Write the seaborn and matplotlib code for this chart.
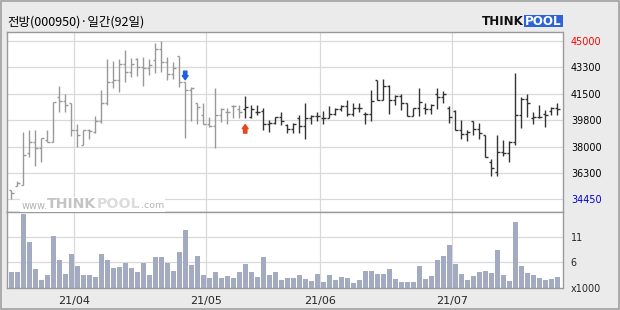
import numpy as np
import pandas as pd
import matplotlib
matplotlib.use("Agg")
import matplotlib.pyplot as plt
import seaborn as sns
from matplotlib.transforms import offset_copy
from matplotlib.patches import Rectangle

sns.set_theme(style="white")
plt.rcParams["font.family"] = ["DejaVu Sans"]

# ---------------- data ----------------
days = list(range(92))  # trading days, 2021-03-17 .. 2021-07-26
opens = [35050, 35350, 35400, 37550, 38300, 37850, 38400, 38300, 41300, 41000,
         40850, 39050, 38100, 39050, 38950, 39650, 40850, 42250, 42400, 43450,
         42950, 43800, 43300, 43200, 43750, 44500, 43600, 42800, 44000, 42250,
         41750, 40850, 40100, 39500, 39350, 40100, 40250, 40700, 40450, 40450,
         39950, 40250, 40350, 39500, 39550, 39950, 39400, 39150, 39850, 39350,
         39850, 40000, 39900, 39900, 40150, 40500, 40700, 40150, 40550, 40150,
         40150, 42400, 41050, 42000, 41050, 41350, 40850, 40000, 40550, 40550,
         40450, 41450, 41300, 40550, 40350, 39100, 38800, 39650, 39150, 38750,
         36950, 36250, 37600, 37550, 38300, 40100, 41150, 39850, 39950, 40150,
         40350, 40550]
highs = [35100, 35700, 38950, 39050, 39100, 38550, 39100, 40950, 42000, 41500,
         40850, 39450, 39050, 39150, 40000, 41750, 43800, 43650, 43800, 44400,
         43850, 43900, 43950, 43800, 44900, 45000, 43950, 43600, 44000, 42250,
         41950, 40850, 40850, 39950, 41900, 40550, 40550, 40750, 40750, 41350,
         40750, 40750, 40550, 39750, 39950, 40250, 39450, 39550, 40100, 40850,
         40100, 40250, 40350, 40700, 40550, 40750, 41050, 40850, 40850, 40300,
         41750, 42400, 42450, 42050, 41400, 41450, 40850, 40550, 41850, 40850,
         40800, 41850, 41650, 40700, 40400, 39750, 39050, 39650, 39550, 38750,
         37150, 38750, 38400, 38350, 42850, 41300, 41500, 40250, 40750, 40400,
         40600, 40900]
lows = [34500, 35350, 35400, 37250, 36700, 36950, 38250, 38250, 40300, 40300,
        38700, 37950, 38100, 38500, 38900, 39550, 40750, 41850, 41600, 42300,
        42600, 42700, 42000, 42750, 42850, 42950, 42400, 42450, 41950, 38550,
        39650, 39500, 39450, 39300, 37850, 39600, 39450, 39850, 39900, 39900,
        39850, 40100, 39100, 38950, 39500, 39400, 38900, 38850, 38850, 38500,
        39500, 39650, 39450, 39850, 40050, 40350, 40000, 40000, 40250, 39500,
        39700, 41050, 41050, 40150, 40750, 40400, 40000, 40000, 40000, 40150,
        40150, 40450, 40850, 39550, 39050, 38450, 38350, 38750, 38500, 37250,
        36000, 36000, 37350, 36950, 38100, 39200, 39950, 39500, 39850, 39300,
        40050, 40100]
closes = [34850, 35550, 37400, 38300, 37850, 38550, 38300, 40950, 41000, 40750,
          39050, 38750, 39050, 39000, 39650, 40850, 42250, 42400, 43450, 42950,
          43450, 43300, 43200, 43400, 44500, 43600, 42800, 43200, 42300, 41750,
          41900, 40600, 39500, 39350, 40100, 40500, 40250, 40700, 40250, 40600,
          40450, 40250, 39500, 39550, 39950, 39650, 39150, 39500, 39350, 39850,
          40000, 40000, 39900, 40150, 40500, 40700, 40150, 40550, 40550, 40150,
          41000, 41050, 42000, 41050, 41350, 40850, 40000, 40550, 40950, 40450,
          40750, 41300, 41450, 39950, 39100, 38800, 38950, 39150, 38850, 37300,
          36550, 37600, 37550, 38300, 40100, 41150, 40900, 39950, 39950, 40050,
          40550, 40450]
volume = [3.45, 3.45, 16.1, 9.97, 4.03, 1.61, 2.71, 11.3, 6.01, 2.93,
          7.33, 4.69, 2.71, 2.71, 2.27, 7.33, 6.01, 4.25, 4.47, 5.35,
          4.25, 3.37, 5.35, 2.71, 6.67, 6.67, 5.35, 3.59, 7.77, 12.6,
          4.91, 6.89, 2.71, 2.05, 3.37, 2.05, 2.49, 2.05, 3.37, 5.13,
          3.37, 2.27, 6.67, 2.71, 3.37, 1.61, 2.05, 2.05, 2.71, 1.83,
          1.39, 2.93, 1.17, 2.71, 1.61, 2.27, 2.05, 0.95, 1.61, 3.59,
          3.59, 2.93, 2.93, 4.03, 1.83, 1.17, 1.17, 1.17, 4.69, 1.83,
          2.49, 6.01, 6.89, 9.31, 5.13, 2.93, 1.61, 2.49, 3.37, 3.59,
          3.15, 8.21, 2.71, 1.39, 14.37, 4.69, 3.15, 2.71, 2.05, 1.61,
          1.83, 2.27]  # x1000 shares

month_labels = ["21/04", "21/05", "21/06", "21/07"]
month_start = [11, 33, 52, 74]          # first trading day of each month
price_labels = ["45000", "43300", "41500", "39800", "38000", "36300", "34450"]
price_top, price_bottom = 45000, 34450
vol_labels = ["11", "6", "x1000"]
vol_levels = [11, 5.5, 0]
split_day = 39     # bars from here on drawn dark (red arrow)
signal_down = 29   # blue arrow
signal_up = 39     # red arrow

title = "전방(000950)·일간(92일)"

# ---------------- figure ----------------
W, H = 620, 310
fig = plt.figure(figsize=(6.2, 3.1), dpi=100, facecolor="#ebebeb")

def fx(px):
    return px / W

def fy(py):
    return 1 - py / H

left, right = 7.3, 562.5
p_top, p_bot = 32.0, 212.3
v_top, v_bot = 212.3, 287.5

axp = fig.add_axes([fx(left), fy(p_bot), fx(right - left), (p_bot - p_top) / H])
axv = fig.add_axes([fx(left), fy(v_bot), fx(right - left), (v_bot - v_top) / H], sharex=axp)

grid_c = "#d9d9d9"
frame_c = "#9a9a9a"

# price axis scaling: 45000 at y=41px, 34450 at y=199.3px
ppx = (price_top - price_bottom) / (199.3 - 41.0)
axp.set_ylim(price_top - (p_bot - 41.0) * ppx, price_top + (41.0 - p_top) * ppx)
axp.set_xlim(-0.65, 91.88)

levels = np.linspace(price_top, price_bottom, len(price_labels))
for lv in levels:
    axp.axhline(lv, color=grid_c, lw=0.9, zorder=0)
for m in month_start:
    axp.axvline(m - 0.5, color=grid_c, lw=0.9, zorder=0)
    axv.axvline(m - 0.5, color=grid_c, lw=0.9, zorder=0)

# OHLC bars
df = pd.DataFrame({"day": days, "open": opens, "high": highs, "low": lows,
                   "close": closes, "volume": volume})
cols = np.where(df["day"] >= split_day, "#333333", "#999999")
x = df["day"].to_numpy(dtype=float)
tw = 0.4
axp.vlines(x, df["low"], df["high"], colors=cols, lw=1.0, zorder=3)
axp.hlines(df["open"], x - tw, x, colors=cols, lw=1.0, zorder=3)
axp.hlines(df["close"], x, x + tw, colors=cols, lw=1.0, zorder=3)

# signal arrows
down_tr = offset_copy(axp.transData, fig=fig, y=2.5, units="dots")
axp.annotate("", xy=(signal_down, highs[signal_down]), xycoords=down_tr,
             xytext=(0, 6.2), textcoords="offset points",
             arrowprops=dict(arrowstyle="simple,head_length=0.3,head_width=0.42,tail_width=0.24",
                             color="#1f5fe6", shrinkA=0, shrinkB=0, mutation_scale=10),
             zorder=5)
up_tr = offset_copy(axp.transData, fig=fig, y=-7, units="dots")
axp.annotate("", xy=(signal_up, lows[signal_up]), xycoords=up_tr,
             xytext=(0, -6.2), textcoords="offset points",
             arrowprops=dict(arrowstyle="simple,head_length=0.3,head_width=0.42,tail_width=0.24",
                             color="#e8461e", shrinkA=0, shrinkB=0, mutation_scale=10),
             zorder=5)

# price labels on right
axp.yaxis.tick_right()
axp.set_yticks(levels)
axp.set_yticklabels(price_labels)
axp.tick_params(axis="y", length=0, pad=6, labelsize=6.9, labelcolor="black")
ytl = axp.get_yticklabels()
ytl[0].set_color("#ff0000")
ytl[-1].set_color("#0000d0")
axp.tick_params(axis="x", length=0, labelbottom=False)
for s in axp.spines.values():
    s.set_color(frame_c)
    s.set_linewidth(1.0)

# volume
sns.barplot(data=df, x="day", y="volume", ax=axv, color="#a3abc2",
            saturation=1, width=0.78, edgecolor="none", zorder=2)
axv.set_ylim(0, 16.5)
for lv in vol_levels[:2]:
    axv.axhline(lv, color=grid_c, lw=0.9, zorder=0)
axv.yaxis.tick_right()
axv.set_yticks(vol_levels)
axv.set_yticklabels(vol_labels)
axv.tick_params(axis="y", length=0, pad=6, labelsize=6.9)
axv.set_xlim(-0.65, 91.88)
axv.set_xticks([m - 0.5 for m in month_start])
axv.set_xticklabels(month_labels)
axv.tick_params(axis="x", length=0, pad=6, labelsize=8, labelbottom=True)
axv.set_xlabel("")
axv.set_ylabel("")
for s in axv.spines.values():
    s.set_color(frame_c)
    s.set_linewidth(1.0)

# title
fig.text(fx(7), fy(22), title, fontsize=9, va="center", ha="left", color="black",
         family=["Noto Sans CJK KR", "DejaVu Sans"])

# THINKPOOL logo (top right)
fig.text(fx(482), fy(21.5), "THINK", fontsize=8.6, fontweight="heavy", color="#111111",
         va="center", ha="left")
fig.patches.append(Rectangle((fx(523.5), fy(27)), fx(39.5), 12 / H, transform=fig.transFigure,
                             facecolor="#2d62d8", edgecolor="none", zorder=1))
fig.text(fx(543.3), fy(21.3), "POOL", fontsize=8.6, fontweight="heavy", color="white",
         va="center", ha="center", zorder=2)

# watermark
fig.patches.append(Rectangle((fx(20), fy(211.5)), fx(145), 15 / H, transform=fig.transFigure,
                             facecolor="white", edgecolor="none", zorder=2))
fig.text(fx(22), fy(206), "www.", fontsize=7, color="#b4b4b4", va="center", ha="left", zorder=3)
fig.text(fx(47), fy(204.5), "THINK", fontsize=10.2, fontweight="heavy", color="#c4c4c4",
         va="center", ha="left", zorder=3)
fig.text(fx(96.5), fy(204.5), "POOL", fontsize=10.2, fontweight="heavy", color="#dcdcdc",
         va="center", ha="left", zorder=3)
fig.text(fx(141.5), fy(206), ".com", fontsize=6.8, color="#b4b4b4", va="center", ha="left", zorder=3)

# outer frame
fig.patches.append(Rectangle((fx(0.5), fy(308.5)), fx(618), 308 / H, transform=fig.transFigure,
                             fill=False, edgecolor="#a0a0a0", lw=1.2))

fig.savefig("out.png", dpi=100, facecolor=fig.get_facecolor())
